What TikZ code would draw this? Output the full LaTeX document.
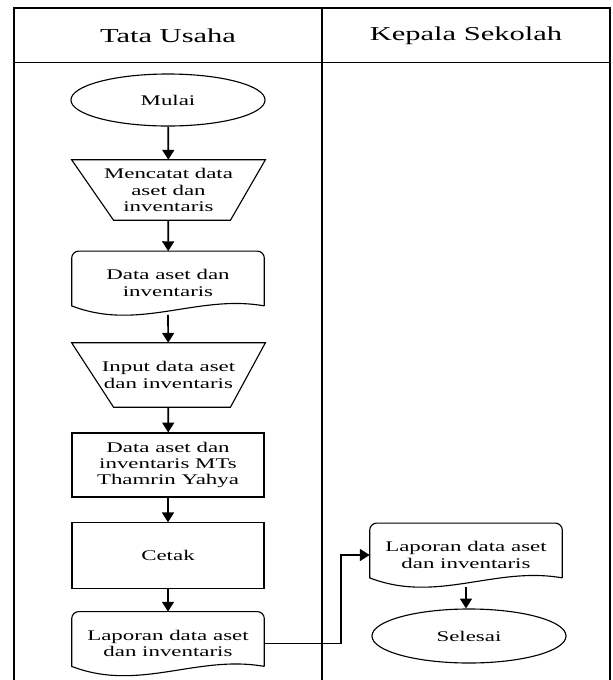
\documentclass[tikz,border=0pt]{standalone}
\usepackage{fontspec}
\setmainfont{Liberation Serif}[FakeStretch=1.55]
\usetikzlibrary{shapes,calc,positioning,arrows.meta}

% document symbol drawn round a plain node
\newcommand{\docshape}[1]{%
\draw[shape line] ($(#1.south east)+(0,-9)$) [rounded corners=5pt] -- (#1.north east) -- (#1.north west) [sharp corners] -- ($(#1.south west)+(0,-9)$)
 .. controls ($(#1.south west)!0.35!(#1.south east)+(0,17)$) and ($(#1.south west)!0.65!(#1.south east)+(0,-21)$) .. ($(#1.south east)+(0,-9)$);}
% manual operation drawn round a plain node
\newcommand{\manualshape}[1]{%
\draw[shape line] (#1.north west) -- (#1.north east) -- ($(#1.south east)+(-35,0)$) -- ($(#1.south west)+(42,0)$) -- cycle;}

\begin{document}
\begin{tikzpicture}[x=0.025cm,y=-0.025cm,
  shape line/.style={line width=0.8pt},
  body/.style={font=\fontsize{10.5}{11.5}\selectfont, align=center, inner sep=0pt},
  terminal/.style={body, shape line, draw, ellipse, minimum width=4.85cm, minimum height=1.3cm},
  manual/.style={body, rectangle, minimum width=4.83cm, minimum height=1.5cm},
  proc/.style={body, shape line, draw, rectangle, minimum width=4.8cm, minimum height=1.6cm},
  docnode/.style={body, rectangle, minimum width=4.8cm, minimum height=1.58cm},
  flow/.style={line width=1.2pt, -{Triangle[length=7pt,width=8.5pt]}},
  header/.style={font=\fontsize{14}{16}\selectfont}]

\useasboundingbox (0,0) rectangle (613,680);

% swimlane frame
\draw[line width=1pt] (14,680) -- (14,8) -- (610,8) -- (610,680);
\draw[line width=0.6pt] (14,62) -- (610,62);
\draw[line width=1.2pt] (322,8) -- (322,680);

\node[header] (tu) at (168,36) {Tata Usaha};
\node[header] (ks) at (466,36) {Kepala Sekolah};

% Tata Usaha
\node[terminal] (mulai) at (168,100) {Mulai};
\node[manual] (catat) at (168.5,190) {Mencatat data\\aset dan\\inventaris};
\manualshape{catat}
\node[docnode] (data) at (168,283) {Data aset dan\\inventaris};
\docshape{data}
\node[manual, minimum height=1.6cm] (input) at (168.5,375) {Input data aset\\dan inventaris};
\manualshape{input}
\node[proc] (dataMTs) at (168,465) {Data aset dan\\inventaris MTs\\Thamrin Yahya};
\node[proc, minimum height=1.63cm] (cetak) at (168,555.5) {Cetak};
\node[docnode] (lapTU) at (168,643.5) {Laporan data aset\\dan inventaris};
\docshape{lapTU}

% Kepala Sekolah
\node[docnode] (lapKS) at (466,555) {Laporan data aset\\dan inventaris};
\docshape{lapKS}
\node[terminal, minimum height=1.35cm] (selesai) at (469,636) {Selesai};

\draw[flow] (mulai) -- (catat);
\draw[flow] (catat) -- (data);
\draw[flow] (data.south) -- (input);
\draw[flow] (input) -- (dataMTs);
\draw[flow] (dataMTs) -- (cetak);
\draw[flow] (cetak) -- (lapTU);
\draw[flow] (lapTU.east) -- ++(77,0) |- (lapKS.west);
\draw[flow] (lapKS.south) -- (lapKS.south |- selesai.north);

\end{tikzpicture}
\end{document}
